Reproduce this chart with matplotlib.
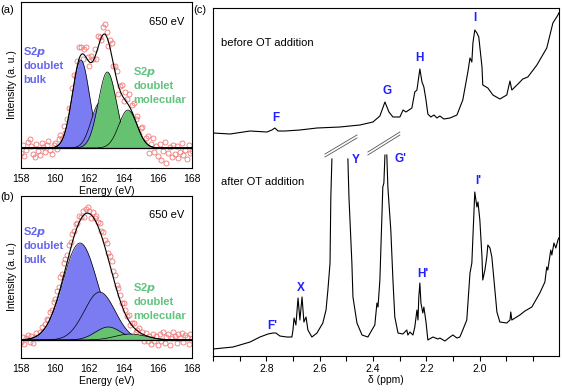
import numpy as np
import matplotlib.pyplot as plt

plt.rcParams['font.family'] = ['Liberation Sans', 'DejaVu Sans']
plt.rcParams['font.size'] = 7.5

# ---- XPS data (a) and (b) ----
energy = np.round(np.arange(158.0, 168.01, 0.1), 1)

# fitted S2p components: centres (eV), heights (a.u.), widths (sigma, eV)
a_bulk_centers = [161.5, 162.6]
a_bulk_heights = [88, 45]
a_bulk_sigma = [0.5, 0.5]
a_mol_centers = [163.05, 164.25]
a_mol_heights = [76, 38]
a_mol_sigma = [0.53, 0.53]

b_bulk_centers = [161.45, 162.6]
b_bulk_heights = [97, 48]
b_bulk_sigma = [1.0, 0.9]
b_mol_centers = [163.1, 164.4]
b_mol_heights = [13, 6]
b_mol_sigma = [0.75, 0.9]

# measured points, given as deviation from the fit envelope
a_resid = [-5, 3, -8, -2, 6, 9, 2, -6, -9, 4,
           -3, -7, 5, 1, -4, 3, 7, -2, -6, 2,
           4, -3, 6, 8, 2, 10, -2, 5, 7, -4,
           6, 9, -3, 4, 12, 8, -5, 6, 10, 3,
           -4, 7, 2, 9, -6, 11, 5, -3, 8, 10,
           4, -5, 7, 12, -2, 6, 9, -8, 5, 10,
           -3, 8, 4, 11, -6, 7, 13, 2, 9, -4,
           6, 10, -2, 5, 8, -7, 3, 9, -5, 2,
           -8, 4, -12, -3, 6, -15, -5, 1, -9, 3,
           -6, 2, -10, -4, 5, -7, -2, -11, 3, -5,
           -3]
b_resid = [-2, 3, -4, 1, 4, -3, 2, -5, 0, 3,
           -3, 2, 5, -1, 4, 6, 2, 7, 5, 8,
           6, 9, 7, 11, 8, 12, 9, 7, 10, 6,
           8, 5, 7, 3, 6, 2, 5, -2, 4, 6,
           3, -3, 5, 1, 6, 4, 8, 5, 9, 7,
           10, 6, 9, 11, 7, 9, 5, 8, 6, 3,
           7, 4, 2, 6, -2, 3, 5, -3, 1, 4,
           -4, 2, -6, 3, -5, 1, -7, 4, -3, 2,
           -6, 5, -2, 7, -4, 3, 6, -5, 2, 8,
           4, -3, 6, 2, 7, -2, 5, 3, -4, 6,
           2]

# ---- NMR spectra (c) ----
before_ppm = [3.000, 2.936, 2.861, 2.798, 2.779, 2.768, 2.756, 2.730, 2.674, 2.610,
              2.524, 2.449, 2.400, 2.374, 2.355, 2.340, 2.325, 2.299, 2.287, 2.276,
              2.265, 2.254, 2.243, 2.235, 2.224, 2.216, 2.209, 2.201, 2.194, 2.183,
              2.171, 2.160, 2.149, 2.134, 2.111, 2.085, 2.063, 2.044, 2.036, 2.029,
              2.025, 2.018, 2.010, 2.003, 1.991, 1.988, 1.969, 1.950, 1.924, 1.898,
              1.886, 1.879, 1.856, 1.838, 1.819, 1.785, 1.748, 1.725, 1.706, 1.703]
before_int = [223, 222, 225, 224, 226, 228, 225, 225, 226, 228,
              229, 231, 234, 240, 254, 244, 239, 239, 246, 244,
              246, 248, 264, 266, 287, 274, 269, 256, 242, 239,
              241, 238, 240, 237, 238, 241, 256, 284, 298, 294,
              313, 326, 323, 319, 289, 271, 268, 261, 257, 261,
              275, 266, 272, 277, 279, 291, 308, 333, 341, 343]

after_ppm = [3.000, 2.925, 2.861, 2.824, 2.794, 2.775, 2.764, 2.749, 2.723, 2.704,
             2.700, 2.696, 2.689, 2.681, 2.674, 2.666, 2.659, 2.651, 2.644, 2.629,
             2.610, 2.588, 2.576, 2.569, 2.561, 2.558, 2.554, np.nan,
             2.494, 2.490, 2.479, 2.475, 2.460, 2.441, 2.419, 2.404, 2.393, 2.385,
             2.381, 2.374, 2.366, 2.363, 2.359, 2.355, np.nan,
             2.348, 2.344, 2.340, 2.333, 2.325, 2.318, 2.306, 2.288, 2.273, 2.269,
             2.261, 2.250, 2.243, 2.235, 2.231, 2.228, 2.224, 2.220, 2.213, 2.209,
             2.201, 2.194, 2.175, 2.156, 2.149, 2.130, 2.111, 2.100, 2.085, 2.074,
             2.063, 2.048, 2.036, 2.029, 2.025, 2.018, 2.010, 2.006, 1.999, 1.991,
             1.988, 1.980, 1.973, 1.969, 1.961, 1.954, 1.946, 1.935, 1.924, 1.898,
             1.886, 1.883, 1.879, 1.849, 1.830, 1.804, 1.774, 1.755, 1.748, 1.744,
             1.733, 1.729, 1.721, 1.714, 1.706, 1.703]
after_int = [7, 9, 14, 19, 22, 23, 23, 20, 19, 19,
             26, 38, 31, 58, 36, 59, 34, 39, 26, 19,
             23, 33, 46, 66, 93, 159, 197, np.nan,
             197, 159, 93, 59, 33, 21, 19, 26, 31, 53,
             49, 76, 143, 169, 173, 201, np.nan,
             201, 169, 153, 126, 76, 39, 23, 22, 26, 21,
             24, 21, 29, 46, 36, 59, 73, 53, 43, 49,
             34, 16, 19, 17, 18, 15, 19, 21, 18, 19,
             26, 36, 83, 93, 119, 164, 149, 154, 136, 99,
             76, 86, 99, 111, 108, 99, 76, 44, 34, 33,
             36, 44, 36, 41, 45, 49, 63, 74, 89, 86,
             106, 101, 113, 108, 116, 118]

peak_labels = ['F', 'G', 'H', 'I', "F'", 'X', 'Y', "G'", "H'", "I'"]
label_ppm = [2.764, 2.348, 2.224, 2.018, 2.779, 2.670, 2.464, 2.297, 2.213, 2.003]
label_int = [238, 265, 298, 338, 30, 68, 196, 197, 82, 175]

blue = '#7b7bf2'
green = '#66c270'
blue_txt = '#6565ee'
green_txt = '#5fc47f'
pt_red = '#f07878'


def gauss(x, c, h, s):
    return h * np.exp(-(x - c) ** 2 / (2 * s ** 2))


def xps_panel(ax, bulk, mol, resid, ylim, txt_bulk_y, txt_mol_y):
    xf = np.linspace(158, 168, 600)
    comps_b = [gauss(xf, c, h, s) for c, h, s in zip(*bulk)]
    comps_m = [gauss(xf, c, h, s) for c, h, s in zip(*mol)]
    env = sum(comps_b) + sum(comps_m)
    env_pts = sum(gauss(energy, c, h, s) for c, h, s in zip(*bulk)) + \
        sum(gauss(energy, c, h, s) for c, h, s in zip(*mol))
    ax.plot(energy, env_pts + np.array(resid), 'o', ms=3.6, mfc='none',
            mec=pt_red, mew=0.6, zorder=1)
    # each component filled then outlined, later ones cover earlier ones
    z = 2
    for g, col in [(c, blue) for c in comps_b] + [(c, green) for c in comps_m]:
        ax.fill_between(xf, 0, g, color=col, lw=0, zorder=z)
        ax.plot(xf, g, color='k', lw=0.5, zorder=z + 0.5)
        z += 1
    ax.plot(xf, env, color='k', lw=0.8, zorder=10)
    ax.axhline(0, color='k', lw=0.9, zorder=10)
    ax.set_xlim(158, 168)
    ax.set_ylim(*ylim)
    ax.set_xticks([158, 160, 162, 164, 166, 168])
    ax.set_yticks([])
    ax.tick_params(axis='x', length=0, pad=4)
    ax.set_xlabel('Energy (eV)', labelpad=2)
    ax.set_ylabel('Intensity (a. u.)', labelpad=3)
    ax.text(0.85, 0.88, '650 eV', transform=ax.transAxes, ha='center', va='center',
            fontsize=8)
    for i, s in enumerate(['S2$\\mathbfit{p}$', 'doublet', 'bulk']):
        ax.text(0.012, txt_bulk_y - i * 0.085, s, transform=ax.transAxes, color=blue_txt,
                fontweight='bold', fontsize=8, ha='left', va='center')
    for i, s in enumerate(['S2$\\mathbfit{p}$', 'doublet', 'molecular']):
        ax.text(0.655, txt_mol_y - i * 0.085, s, transform=ax.transAxes, color=green_txt,
                fontweight='bold', fontsize=8, ha='left', va='center')
    for sp in ax.spines.values():
        sp.set_linewidth(0.8)


fig = plt.figure(figsize=(5.62, 3.92), dpi=100)
ax_a = fig.add_axes([0.0374, 0.5714, 0.3043, 0.4235])
ax_b = fig.add_axes([0.0374, 0.0867, 0.3043, 0.4133])
ax_c = fig.add_axes([0.379, 0.0918, 0.6157, 0.8878])

xps_panel(ax_a, (a_bulk_centers, a_bulk_heights, a_bulk_sigma),
          (a_mol_centers, a_mol_heights, a_mol_sigma), a_resid, (-20, 146), 0.70, 0.58)
xps_panel(ax_b, (b_bulk_centers, b_bulk_heights, b_bulk_sigma),
          (b_mol_centers, b_mol_heights, b_mol_sigma), b_resid, (-18, 144), 0.775, 0.43)

# ---- (c) NMR ----
ax_c.plot(before_ppm, before_int, color='k', lw=0.8)
ax_c.plot(after_ppm, after_int, color='k', lw=0.8)
for lab, xp, yp in zip(peak_labels, label_ppm, label_int):
    ax_c.text(xp, yp, lab, color='#1f1fff', fontweight='bold', fontsize=8.5,
              ha='center', va='center')
ax_c.text(2.970, 313, 'before OT addition', fontsize=8, ha='left', va='center')
ax_c.text(2.970, 174, 'after OT addition', fontsize=8, ha='left', va='center')

# axis-break marks above the truncated peaks
for x0, x1, y0, y1 in [(2.580, 2.460, 199, 218), (2.419, 2.299, 201, 221)]:
    for dy in (0, 3):
        ax_c.plot([x0, x1], [y0 + dy, y1 + dy], color='#555555', lw=0.6)

ax_c.set_xlim(3.0, 1.702)
ax_c.set_ylim(0, 348)
ticks = [3.0, 2.9, 2.8, 2.7, 2.6, 2.5, 2.4, 2.3, 2.2, 2.1, 2.0, 1.9, 1.8]
ax_c.set_xticks(ticks)
ax_c.set_xticklabels(['%.1f' % t if t in (2.8, 2.6, 2.4, 2.2, 2.0) else '' for t in ticks])
ax_c.set_yticks([])
ax_c.tick_params(axis='x', direction='out', length=3.5, width=0.8, pad=2)
ax_c.set_xlabel('δ (ppm)', labelpad=1)
for sp in ax_c.spines.values():
    sp.set_linewidth(0.8)

fig.text(0.0, 0.975, '(a)', fontsize=8, ha='left', va='center')
fig.text(0.0, 0.497, '(b)', fontsize=8, ha='left', va='center')
fig.text(0.343, 0.975, '(c)', fontsize=8, ha='left', va='center')

fig.savefig('out.png', dpi=100)
